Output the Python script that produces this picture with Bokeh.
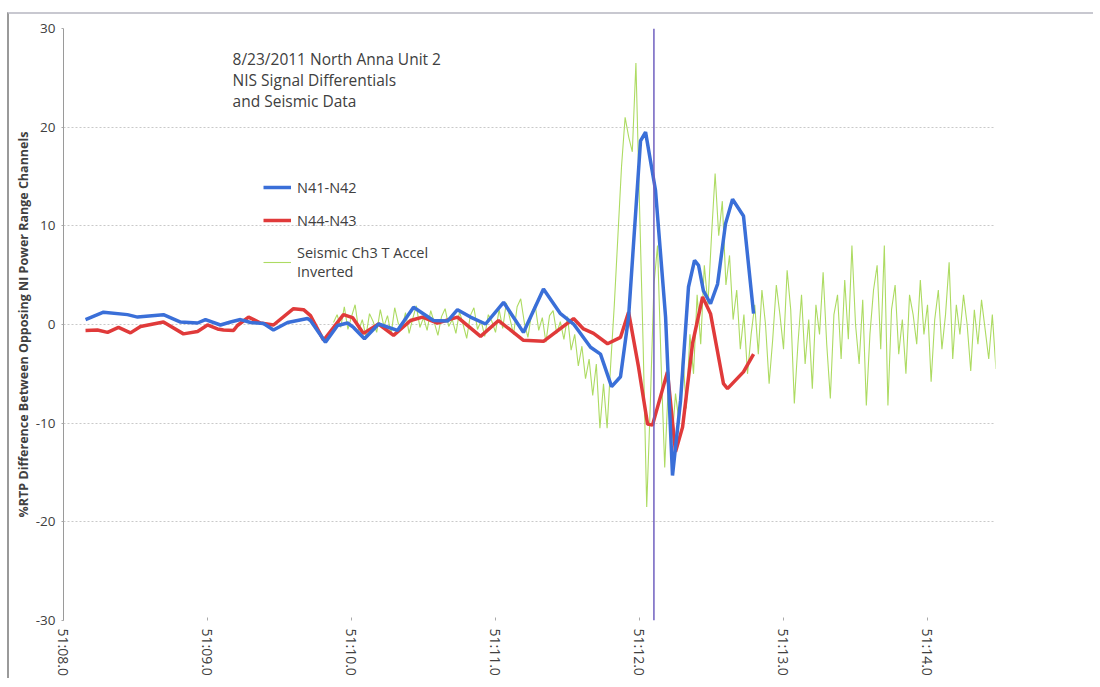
import math
from bokeh.plotting import figure
from bokeh.models import Range1d, Span, Legend, LegendItem, Label, FixedTicker
from bokeh.embed import file_html
from bokeh.resources import INLINE

# ---- data (time in seconds after 51:08.0) ----
x_tick_values = [0, 1, 2, 3, 4, 5, 6]
x_tick_labels = ["51:08.0", "51:09.0", "51:10.0", "51:11.0", "51:12.0", "51:13.0", "51:14.0"]
y_tick_values = [-30, -20, -10, 0, 10, 20, 30]
y_tick_labels = ["-30", "-20", "-10", "0", "10", "20", "30"]

n41_t = [0.153, 0.278, 0.444, 0.514, 0.694, 0.813, 0.931, 0.986, 1.090, 1.160, 1.229, 1.299,
         1.389, 1.458, 1.556, 1.694, 1.715, 1.819, 1.903, 1.972, 2.014, 2.090, 2.188, 2.319,
         2.431, 2.569, 2.667, 2.736, 2.826, 2.931, 3.056, 3.194, 3.333, 3.451, 3.542, 3.660,
         3.729, 3.806, 3.868, 3.924, 4.007, 4.042, 4.111, 4.181, 4.229, 4.285, 4.340, 4.382,
         4.410, 4.444, 4.493, 4.542, 4.597, 4.646, 4.722, 4.792]
n41_v = [0.5, 1.25, 1.0, 0.75, 1.0, 0.25, 0.15, 0.5, -0.05, 0.25, 0.5, 0.2,
         0.1, -0.55, 0.2, 0.6, 0.4, -1.8, -0.1, 0.15, -0.3, -1.45, 0.05, -0.6,
         1.75, 0.4, 0.35, 1.5, 0.75, 0.05, 2.25, -0.8, 3.6, 1.1, 0.05, -2.3,
         -3.0, -6.3, -5.3, 0.75, 18.6, 19.5, 13.6, 0.75, -15.3, -7.7, 3.8, 6.5,
         6.0, 3.4, 2.1, 4.1, 10.2, 12.7, 11.0, 1.1]

n44_t = [0.153, 0.236, 0.306, 0.382, 0.465, 0.535, 0.694, 0.833, 0.931, 1.000, 1.069, 1.111,
         1.181, 1.208, 1.285, 1.368, 1.458, 1.597, 1.667, 1.715, 1.806, 1.875, 1.944, 2.007,
         2.083, 2.188, 2.292, 2.410, 2.493, 2.597, 2.736, 2.896, 3.021, 3.194, 3.333, 3.542,
         3.611, 3.681, 3.778, 3.868, 3.924, 3.993, 4.056, 4.090, 4.194, 4.250, 4.299, 4.368,
         4.438, 4.493, 4.583, 4.611, 4.722, 4.792]
n44_v = [-0.6, -0.55, -0.8, -0.3, -0.85, -0.2, 0.25, -0.95, -0.7, -0.05, -0.45, -0.55,
         -0.6, -0.1, 0.75, 0.15, -0.05, 1.6, 1.5, 0.9, -1.6, -0.3, 1.0, 0.7,
         -0.9, 0.05, -1.1, 0.4, 0.75, 0.15, 0.75, -1.2, 0.4, -1.6, -1.7, 0.6,
         -0.45, -0.9, -1.95, -1.3, 1.25, -4.3, -10.1, -10.2, -4.8, -12.9, -10.4, -1.95,
         2.8, 1.1, -6.0, -6.5, -4.8, -3.0]

seis_start = 1.875
seis_step = 0.025
seis_v = [
    0.2, 1.0, -0.3, 1.8, -0.5, 0.8, 2.0, -0.6, 0.5, -1.2, 1.1, 0.3, -0.8, 1.5, -0.2, 0.9,
    -1.0, 1.7, 0.1, -0.4, 1.2, -0.9, 0.6, 1.9, -0.3, 0.7,
    -0.6, 1.4, 0.2, -1.1, 0.8, 1.6, -0.2, 0.5, -0.9, 1.3, 0.0, -1.4, 0.9, 1.7, -0.5, 0.4,
    -1.2, 1.0, 0.3, -0.8,
    1.5, -0.4, 2.2, 0.6, -1.0, 1.8, 2.6, 0.2, -1.3, 1.1, 2.0, -0.6, 0.7, -1.8, 0.9, 1.4,
    -0.9, 0.3,
    -1.5, 0.8, -2.6, -1.0, -4.2, -2.2, -5.5, -3.5, -7.2, -4.0, -10.5, -6.0,
    -10.5, -4.0, 2.0, 9.0, 16.0, 21.0, 19.0, 17.5, 26.5, 12.0, -2.0, -18.5, -8.0, 4.0,
    8.0, -4.0, -14.5, -6.0,
    -12.0, -7.0, -10.0, -3.0, -8.5, -1.0, -5.0, 3.0, -2.0, 6.0, 2.0, 9.0,
    15.3, 9.0, 12.5, 4.0, 7.0, 0.5, 3.5, -2.5, 1.0, -5.0, -1.0, 2.0, -3.0, 3.5, 0.0, -6.0,
    -1.5, 4.0, 1.0, -2.5, 5.5, 1.5, -8.0, -2.0, 3.0, -4.0, 0.5, -6.5, 2.0, -1.0, 5.3, -2.0,
    -7.5, 1.0, 3.0, -3.5, 4.5, -1.5, 8.0, 0.0, -4.0, 2.5, -8.2, -1.0, 3.5, 6.0, -2.5, 8.0,
    -8.2, 1.5, 4.0, -3.0, 0.5, -5.0, 3.0, 1.0, -2.0, 4.5, -1.0, 2.0, -5.8, 0.5, 3.5, -2.5,
    1.0, 6.3, -3.5, 2.0, -1.0, 3.0, 0.0, -4.7, 1.5, -2.0, 2.5, -0.5, -3.5, 1.0, -4.5,
]
seis_t = [seis_start + seis_step * i for i in range(len(seis_v))]

marker_t = 4.1

title_lines = "8/23/2011 North Anna Unit 2\nNIS Signal Differentials\nand Seismic Data"
y_title = "%RTP Difference Between Opposing NI Power Range Channels"

FONT = "Open Sans"

p = figure(width=1086, height=666, output_backend="svg", toolbar_location=None,
           x_range=Range1d(0, 6.472), y_range=Range1d(-30, 30),
           min_border_left=54, min_border_right=100, min_border_top=14, min_border_bottom=60)
p.styles = {"margin-left": "7px", "margin-top": "12px",
            "border-left": "2px solid #9a9a9a", "border-top": "2px solid #c8c8d0"}
p.outline_line_color = None
p.background_fill_color = "white"
p.border_fill_color = "white"

p.xgrid.grid_line_color = None
p.ygrid.grid_line_color = "#c9c9c9"
p.ygrid.grid_line_dash = "2 2"
p.ygrid.ticker = FixedTicker(ticks=y_tick_values)

# seismic
r_s = p.line(seis_t, seis_v, line_color="#addb62", line_width=1.1)
# N44-N43
r_r = p.line(n44_t, n44_v, line_color="#e03a3a", line_width=3.5)
# N41-N42
r_b = p.line(n41_t, n41_v, line_color="#3a6fd8", line_width=3.5)

p.add_layout(Span(location=marker_t, dimension="height", line_color="#7060c0", line_width=1.5))

# axes
p.xaxis.ticker = FixedTicker(ticks=x_tick_values)
p.xaxis.major_label_overrides = {v: l for v, l in zip(x_tick_values, x_tick_labels)}
p.xaxis.major_label_orientation = -math.pi / 2
p.xaxis.axis_line_color = None
p.xaxis.major_tick_line_color = "#aaaaaa"
p.xaxis.major_tick_in = 3
p.xaxis.major_tick_out = 0
p.xaxis.minor_tick_line_color = None
p.xaxis.major_label_text_font = FONT
p.xaxis.major_label_text_font_size = "14px"
p.xaxis.major_label_text_color = "#404040"
p.xaxis.major_label_standoff = 8

p.yaxis.ticker = FixedTicker(ticks=y_tick_values)
p.yaxis.major_label_overrides = {v: l for v, l in zip(y_tick_values, y_tick_labels)}
p.yaxis.axis_line_color = "#9a9a9a"
p.yaxis.major_tick_line_color = "#aaaaaa"
p.yaxis.major_tick_out = 2
p.yaxis.major_tick_in = 0
p.yaxis.minor_tick_line_color = None
p.yaxis.major_label_text_font = FONT
p.yaxis.major_label_text_font_size = "13.5px"
p.yaxis.major_label_text_color = "#404040"
p.yaxis.major_label_standoff = 6
p.yaxis.axis_label = y_title
p.yaxis.axis_label_text_font = FONT
p.yaxis.axis_label_text_font_style = "bold"
p.yaxis.axis_label_text_font_size = "12.5px"
p.yaxis.axis_label_text_color = "#404040"
p.yaxis.axis_label_standoff = 1

p.add_layout(Label(x=1.174, y=28.0, text=title_lines, text_font=FONT, text_font_size="15.5px",
                   text_color="#404040", text_baseline="top", text_line_height=0.95))

legend = Legend(items=[LegendItem(label="N41-N42", renderers=[r_b]),
                       LegendItem(label="N44-N43", renderers=[r_r]),
                       LegendItem(label="Seismic Ch3 T Accel\nInverted", renderers=[r_s])],
                location=(200, 339), orientation="vertical",
                background_fill_alpha=0, border_line_color=None,
                label_text_font=FONT, label_text_font_size="14.5px", label_text_color="#404040",
                glyph_width=28, glyph_height=20, label_height=20, spacing=13,
                padding=0, margin=0, label_standoff=6)
p.add_layout(legend, "center")

open("out.html", "w").write(file_html(p, INLINE))
